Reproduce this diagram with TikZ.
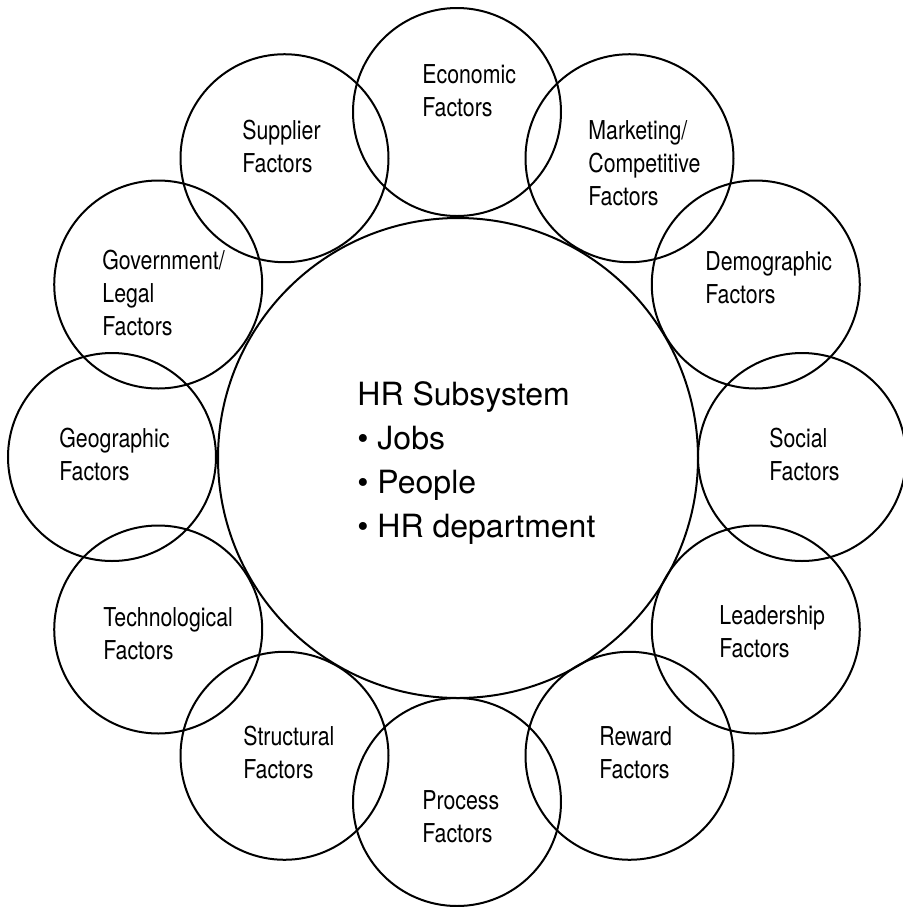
\documentclass[tikz,border=0pt]{standalone}
\usepackage{fontspec}
\setmainfont{TeX Gyre Heros}
\newfontfamily\narrowfont{TeX Gyre Heros}[FakeStretch=0.82]

\tikzstyle{factor}=[circle,draw=black,line width=1pt,minimum size=104pt,inner sep=0pt]
\tikzstyle{hub}=[circle,draw=black,line width=1pt,minimum size=240pt,inner sep=0pt]
\tikzstyle{factor text}=[anchor=base west,align=left,inner sep=0pt,font=\narrowfont\fontsize{13}{16.5}\selectfont]
\tikzstyle{hub text}=[anchor=base west,align=left,inner sep=0pt,font=\fontsize{16}{22}\selectfont]

\begin{document}
\begin{tikzpicture}[x=0.5pt,y=-0.5pt]
	\useasboundingbox (0,0) rectangle (902,907);
			\coordinate (ctr) at (457,457);
			\node[hub] (hr) at (458,458) {};
			% ring of factor circles (angles clockwise, y points down)
			\foreach \ang/\nm in {270/econ, 240/supp, 210/gov, 180/geo, 150/tech, 120/struct,
			                      90/proc, 60/rew, 30/lead, 0/soc, 330/demo, 300/mkt}
			 \path (ctr) ++(\ang:345) node[factor] (\nm) {};
	    		% labels, placed at the baseline of their last line
			\node[factor text] (econ-t) at (422,116) {Economic\\Factors};
			\node[factor text] (supp-t) at (242,172) {Supplier\\Factors};
			\node[factor text] (mkt-t) at (588,205) {Marketing/\\Competitive\\Factors};
			\node[factor text] (gov-t) at (102,335) {Government/\\Legal\\Factors};
			\node[factor text] (demo-t) at (705,303) {Demographic\\Factors};
			\node[factor text] (geo-t) at (59,480) {Geographic\\Factors};
			\node[factor text] (soc-t) at (769,480) {Social\\Factors};
			\node[factor text] (tech-t) at (103,659) {Technological\\Factors};
			\node[factor text] (lead-t) at (719,657) {Leadership\\Factors};
			\node[factor text] (struct-t) at (243,778) {Structural\\Factors};
			\node[factor text] (rew-t) at (599,778) {Reward\\Factors};
			\node[factor text] (proc-t) at (422,842) {Process\\Factors};
			\node[hub text] (hr-t) at (357,537) {HR Subsystem\\\textbullet\ Jobs\\\textbullet\ People\\\textbullet\ HR department};
		\end{tikzpicture}
\end{document}
